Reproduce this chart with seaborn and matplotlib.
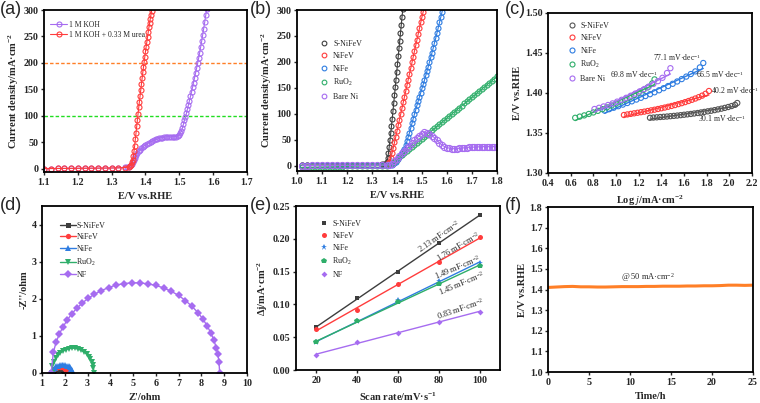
import numpy as np
import matplotlib
matplotlib.use("Agg")
import matplotlib.pyplot as plt
import seaborn as sns
from matplotlib.ticker import FormatStrFormatter

# ---------------- data ----------------
# (a) LSV in KOH with / without urea
a_koh_x = [1.10, 1.12, 1.14, 1.16, 1.18, 1.20, 1.22, 1.24, 1.26, 1.28, 1.30, 1.32, 1.34,
           1.345, 1.350, 1.355, 1.358, 1.360, 1.362, 1.365, 1.368, 1.370, 1.373, 1.376, 1.380,
           1.384, 1.388, 1.392, 1.396, 1.400, 1.405, 1.410, 1.415, 1.420, 1.425, 1.430, 1.435,
           1.440, 1.445, 1.450, 1.455, 1.460, 1.465, 1.470, 1.475, 1.480, 1.485, 1.490, 1.495,
           1.500, 1.503, 1.506, 1.509, 1.512, 1.515, 1.518, 1.521, 1.524, 1.527, 1.530, 1.533,
           1.536, 1.539, 1.542, 1.545, 1.548, 1.551, 1.554, 1.557, 1.560, 1.563, 1.566, 1.569,
           1.572, 1.575, 1.578, 1.581]
a_koh_y = [0.5, 0.6, 0.7, 0.8, 0.9, 1.0, 1.1, 1.2, 1.3, 1.4, 1.6, 2.0, 2.6,
           3, 4, 6, 8, 10, 13, 17, 21, 24, 27, 30, 33,
           36, 38.5, 41, 43, 45, 47, 49, 51, 52.5, 54, 55.5, 56.5,
           57.5, 58.5, 59, 59.5, 60, 60.5, 60.5, 60.5, 60.5, 60.5, 61, 62,
           64, 67, 71, 77, 84, 92, 97, 105, 113, 121, 129, 137,
           145, 154, 163, 172, 181, 190, 199, 209, 219, 230, 241, 253,
           265, 277, 290, 302]
a_urea_x = [1.10, 1.12, 1.14, 1.16, 1.18, 1.20, 1.22, 1.24, 1.26, 1.28, 1.30, 1.32, 1.34,
            1.350, 1.354, 1.358, 1.360, 1.362, 1.364, 1.366, 1.368, 1.370, 1.372, 1.374,
            1.376, 1.378, 1.380, 1.382, 1.384, 1.386, 1.388, 1.390, 1.392, 1.394, 1.396,
            1.398, 1.400, 1.402, 1.404, 1.406, 1.408, 1.410, 1.412, 1.414, 1.416, 1.418, 1.420]
a_urea_y = [0.5, 0.6, 0.7, 0.8, 0.9, 1.0, 1.1, 1.2, 1.3, 1.4, 1.6, 1.8, 2.5,
            3.5, 5, 8, 12, 17, 24, 33, 44, 56, 68, 80,
            92, 104, 116, 127, 138, 149, 160, 171, 182, 192, 202,
            212, 222, 231, 240, 249, 258, 267, 275, 283, 291, 299, 307]

# (b) LSV of catalysts
b_base_x = [1.02, 1.04, 1.06, 1.08, 1.10, 1.12, 1.14, 1.16, 1.18, 1.20, 1.22, 1.24, 1.26,
            1.28, 1.30, 1.32, 1.34]
b_snifev_x = b_base_x + [1.350, 1.355, 1.360, 1.363, 1.366, 1.369, 1.372, 1.375, 1.378,
                         1.381, 1.384, 1.387, 1.390, 1.393, 1.396, 1.399, 1.402, 1.405,
                         1.408, 1.411, 1.414, 1.417, 1.420, 1.423]
b_snifev_y = [1.0, 1.0, 1.1, 1.1, 1.2, 1.2, 1.3, 1.3, 1.4, 1.5, 1.6, 1.7, 1.8,
              1.9, 2.0, 2.2, 2.6,
              3, 4, 8, 15, 25, 37, 50, 63, 77, 91, 106, 121, 136, 151, 166, 181, 196,
              211, 226, 241, 256, 271, 286, 301]
b_nifev_x = b_base_x + [1.360, 1.365, 1.370, 1.375, 1.380, 1.385, 1.390, 1.395, 1.400,
                        1.405, 1.410, 1.415, 1.420, 1.425, 1.430, 1.435, 1.440, 1.445,
                        1.450, 1.455, 1.460, 1.465, 1.470, 1.475, 1.480, 1.485, 1.490,
                        1.495, 1.500, 1.505, 1.510]
b_nifev_y = [1.0, 1.0, 1.1, 1.1, 1.2, 1.2, 1.3, 1.3, 1.4, 1.5, 1.6, 1.7, 1.8,
             1.9, 2.0, 2.1, 2.3,
             2.5, 4, 8, 15, 24, 34, 45, 56, 67, 78, 89, 100, 111, 122, 133, 144, 155,
             166, 177, 188, 199, 210, 221, 232, 243, 254, 265, 276, 287, 297, 306]
b_nife_x = b_base_x + [1.360, 1.370, 1.380, 1.385, 1.390, 1.395, 1.400, 1.405, 1.410,
                       1.415, 1.420, 1.425, 1.430, 1.435, 1.440, 1.445, 1.450, 1.455,
                       1.460, 1.465, 1.470, 1.475, 1.480, 1.485, 1.490, 1.495, 1.500,
                       1.505, 1.510, 1.515, 1.520, 1.525, 1.530, 1.535, 1.540, 1.545,
                       1.550, 1.555, 1.560, 1.565, 1.570, 1.575, 1.580, 1.585]
b_nife_y = [0.8, 0.8, 0.9, 0.9, 1.0, 1.0, 1.1, 1.1, 1.2, 1.2, 1.3, 1.3, 1.4,
            1.5, 1.6, 1.7, 1.8,
            1.9, 2.0, 2.5, 4, 6, 8, 11, 14, 17, 20, 24, 28, 33, 40, 48, 56, 64, 73,
            82, 91, 100, 108, 117, 125, 133, 141, 149, 157, 165, 174, 183, 191, 200,
            209, 218, 227, 237, 246, 256, 266, 276, 286, 296, 306]
b_ruo2_x = b_base_x + [1.36, 1.37, 1.38, 1.39, 1.40, 1.41, 1.42, 1.43, 1.44, 1.45, 1.46,
                       1.47, 1.48, 1.49, 1.50, 1.51, 1.52, 1.53, 1.54, 1.55, 1.56, 1.57,
                       1.58, 1.59, 1.60, 1.61, 1.62, 1.63, 1.64, 1.65, 1.66, 1.67, 1.68,
                       1.69, 1.70, 1.71, 1.72, 1.73, 1.74, 1.75, 1.76, 1.77, 1.78, 1.79,
                       1.80]
b_ruo2_y = [-3.0, -2.8, -2.6, -2.4, -2.2, -2.0, -1.8, -1.6, -1.4, -1.2, -1.0, -0.8, -0.6,
            -0.4, -0.2, 0.0, 0.2,
            0.5, 1, 4, 8, 12, 16, 20, 24, 28, 32, 36, 40, 44, 48, 52, 56, 60, 64, 68,
            72, 76, 80, 84, 88, 92, 96, 100, 104, 108, 112, 116, 120, 124, 128, 132,
            136, 140, 144, 148, 152, 156, 160, 164, 168, 172]
b_bareni_x = b_base_x + [1.36, 1.37, 1.38, 1.39, 1.40, 1.41, 1.42, 1.43, 1.44, 1.45, 1.46,
                         1.47, 1.48, 1.49, 1.50, 1.51, 1.52, 1.53, 1.54, 1.55, 1.56, 1.57,
                         1.58, 1.59, 1.60, 1.61, 1.62, 1.63, 1.64, 1.65, 1.66, 1.67, 1.68,
                         1.69, 1.70, 1.71, 1.72, 1.73, 1.74, 1.75, 1.76, 1.77, 1.78, 1.79,
                         1.80]
b_bareni_y = [0.5, 0.5, 0.6, 0.6, 0.7, 0.7, 0.8, 0.8, 0.9, 0.9, 1.0, 1.0, 1.1,
              1.1, 1.2, 1.3, 1.4,
              1.6, 2, 4, 9, 14, 19, 24, 29, 34, 39, 44, 49, 54, 58, 62, 65, 64, 62, 58,
              54, 49, 44, 40, 37, 35, 34, 33, 33, 33, 34, 34, 35, 35, 36, 36, 36, 36,
              37, 37, 37, 37, 37, 37, 37, 37]

# (c) Tafel plots
c_snifev_x = [1.30, 1.33, 1.36, 1.39, 1.42, 1.45, 1.48, 1.51, 1.54, 1.57, 1.60, 1.63, 1.66,
              1.69, 1.72, 1.75, 1.78, 1.81, 1.84, 1.87, 1.90, 1.93, 1.96, 1.99, 2.02,
              2.05, 2.07]
c_snifev_y = [1.3690, 1.3693, 1.3696, 1.3700, 1.3703, 1.3706, 1.3710, 1.3714, 1.3718,
              1.3723, 1.3728, 1.3733, 1.3738, 1.3744, 1.3750, 1.3757, 1.3764, 1.3771,
              1.3778, 1.3786, 1.3795, 1.3804, 1.3814, 1.3825, 1.3837, 1.3852, 1.3875]
c_nifev_x = [1.07, 1.10, 1.13, 1.16, 1.19, 1.22, 1.25, 1.28, 1.31, 1.34, 1.37, 1.40, 1.43,
             1.46, 1.49, 1.52, 1.55, 1.58, 1.61, 1.64, 1.67, 1.70, 1.73, 1.76, 1.79, 1.82]
c_nifev_y = [1.3725, 1.3732, 1.3739, 1.3746, 1.3753, 1.3760, 1.3767, 1.3775, 1.3783,
             1.3791, 1.3800, 1.3809, 1.3818, 1.3828, 1.3838, 1.3849, 1.3861, 1.3873,
             1.3886, 1.3900, 1.3915, 1.3931, 1.3948, 1.3967, 1.3990, 1.4025]
c_nife_x = [0.90, 0.94, 0.98, 1.02, 1.06, 1.10, 1.14, 1.18, 1.22, 1.26, 1.30, 1.34, 1.38,
            1.42, 1.46, 1.50, 1.54, 1.58, 1.62, 1.66, 1.70, 1.74, 1.77]
c_nife_y = [1.3780, 1.3798, 1.3816, 1.3835, 1.3855, 1.3875, 1.3896, 1.3918, 1.3940,
            1.3962, 1.3985, 1.4009, 1.4034, 1.4060, 1.4087, 1.4115, 1.4144, 1.4174,
            1.4205, 1.4237, 1.4270, 1.4320, 1.4375]
c_ruo2_x = [0.64, 0.68, 0.72, 0.76, 0.80, 0.84, 0.88, 0.92, 0.96, 1.00, 1.04, 1.08, 1.12,
            1.16, 1.20, 1.24, 1.28, 1.32, 1.34]
c_ruo2_y = [1.3690, 1.3705, 1.3720, 1.3738, 1.3757, 1.3777, 1.3798, 1.3820, 1.3843,
            1.3867, 1.3892, 1.3918, 1.3945, 1.3974, 1.4004, 1.4036, 1.4070, 1.4120, 1.4170]
c_bareni_x = [0.81, 0.85, 0.89, 0.93, 0.97, 1.01, 1.05, 1.09, 1.13, 1.17, 1.21, 1.25,
              1.29, 1.33, 1.37, 1.41, 1.45, 1.48]
c_bareni_y = [1.3800, 1.3815, 1.3832, 1.3850, 1.3870, 1.3892, 1.3915, 1.3940, 1.3966,
              1.3993, 1.4021, 1.4050, 1.4081, 1.4113, 1.4148, 1.4190, 1.4250, 1.4310]
c_slopes = ["30.1", "40.2", "66.5", "69.8", "77.1"]

# (d) Nyquist plots
d_snifev_x = [1.45, 1.49, 1.54, 1.59, 1.64, 1.69, 1.74, 1.79, 1.84, 1.89, 1.93, 1.96, 1.98, 2.00]
d_snifev_y = [0.0, 0.062, 0.089, 0.105, 0.114, 0.119, 0.120, 0.117, 0.109, 0.096, 0.080,
              0.062, 0.045, 0.0]
d_nifev_x = [1.45, 1.49, 1.54, 1.60, 1.66, 1.72, 1.78, 1.84, 1.90, 1.96, 2.01, 2.05, 2.08, 2.10]
d_nifev_y = [0.0, 0.08, 0.117, 0.143, 0.159, 0.168, 0.170, 0.167, 0.157, 0.140, 0.117,
             0.090, 0.059, 0.0]
d_nife_x = [1.45, 1.50, 1.56, 1.63, 1.70, 1.78, 1.86, 1.94, 2.02, 2.10, 2.17, 2.23, 2.28,
            2.32, 2.35]
d_nife_y = [0.0, 0.10, 0.14, 0.176, 0.197, 0.212, 0.218, 0.218, 0.212, 0.197, 0.176, 0.15,
            0.118, 0.08, 0.0]
d_ruo2_x = [1.42, 1.46, 1.52, 1.60, 1.70, 1.80, 1.92, 2.05, 2.18, 2.32, 2.46, 2.60, 2.73,
            2.85, 2.96, 3.05, 3.12, 3.18, 3.23, 3.26, 3.28]
d_ruo2_y = [0.0, 0.19, 0.30, 0.40, 0.48, 0.54, 0.59, 0.63, 0.66, 0.67, 0.665, 0.645, 0.61,
            0.565, 0.51, 0.44, 0.375, 0.30, 0.22, 0.14, 0.0]
d_nf_x = [1.40, 1.50, 1.62, 1.76, 1.92, 2.10, 2.30, 2.52, 2.76, 3.02, 3.30, 3.60, 3.92,
          4.25, 4.60, 4.95, 5.30, 5.65, 6.00, 6.35, 6.68, 7.00, 7.30, 7.58, 7.84, 8.06,
          8.26, 8.42, 8.55, 8.65, 8.72, 8.77, 8.80]
d_nf_y = [0.0, 0.56, 0.83, 1.05, 1.24, 1.42, 1.59, 1.74, 1.88, 2.01, 2.12, 2.22, 2.30,
          2.37, 2.41, 2.43, 2.43, 2.40, 2.36, 2.29, 2.20, 2.09, 1.95, 1.80, 1.63, 1.46,
          1.26, 1.07, 0.88, 0.68, 0.51, 0.30, 0.0]

# (e) double-layer capacitance
e_rate = [20, 40, 60, 80, 100]
e_snifev = [0.065, 0.110, 0.150, 0.193, 0.236]
e_nifev = [0.062, 0.092, 0.131, 0.165, 0.202]
e_nife = [0.042, 0.074, 0.106, 0.135, 0.163]
e_ruo2 = [0.042, 0.075, 0.103, 0.131, 0.159]
e_nf = [0.023, 0.042, 0.057, 0.073, 0.089]
e_cdl = ["2.13", "1.76", "1.49", "1.45", "0.83"]

# (f) chronopotentiometry
f_time = [0, 1, 2, 3, 4, 5, 6, 7, 8, 9, 10, 11, 12, 13, 14, 15, 16, 17, 18, 19, 20, 21,
          22, 23, 24, 25]
f_pot = [1.410, 1.412, 1.414, 1.415, 1.413, 1.413, 1.412, 1.412, 1.413, 1.414, 1.414,
         1.414, 1.415, 1.415, 1.416, 1.416, 1.416, 1.417, 1.417, 1.418, 1.418, 1.419,
         1.421, 1.421, 1.420, 1.421]

# ---------------- style ----------------
sns.set_style("ticks")
plt.rcParams["font.family"] = ["Liberation Serif", "DejaVu Serif"]
plt.rcParams["mathtext.fontset"] = "custom"
plt.rcParams["mathtext.rm"] = "Liberation Serif"
plt.rcParams["mathtext.it"] = "Liberation Serif:italic"
plt.rcParams["mathtext.bf"] = "Liberation Serif:bold"

BLACK = "#3d3d3d"
RED = "#ff3c3c"
BLUE = "#2f7de1"
GREEN = "#2fae6a"
PURPLE = "#a66cf0"
ORANGE = "#ff7f27"

W, H = 760, 403
fig = plt.figure(figsize=(W / 100, H / 100), dpi=100)


def add_ax(left, top, right, bottom):
    return fig.add_axes([left / W, 1 - bottom / H, (right - left) / W, (bottom - top) / H])


def style(ax, xlabel, ylabel):
    for sp in ax.spines.values():
        sp.set_visible(True)
        sp.set_linewidth(1.3)
        sp.set_color("black")
    ax.tick_params(direction="out", length=2.5, width=1, labelsize=7.2, pad=1.5)
    for lab in ax.get_xticklabels() + ax.get_yticklabels():
        lab.set_fontweight("bold")
    ax.set_xlabel(xlabel, fontsize=7.5, fontweight="bold", labelpad=4)
    ax.set_ylabel(ylabel, fontsize=7.5, fontweight="bold", labelpad=2)


def open_markers(ax, x, y, color, label=None, ms=3.6, line=True):
    sns.lineplot(x=x, y=y, ax=ax, color=color, lw=0.8 if line else 0, marker="o",
                 markersize=ms, markerfacecolor="none", markeredgecolor=color,
                 markeredgewidth=0.8, estimator=None, sort=False, label=label)


jlab = r"Current density/mA·cm$^{\mathbf{-2}}$"
elab = "E/V vs.RHE"

# ---- (a)
ax = add_ax(44, 10, 247, 172)
ax.axhline(200, color=ORANGE, lw=1, ls=(0, (2.5, 1.5)))
ax.axhline(100, color="#22dd22", lw=1, ls=(0, (2.5, 1.5)))
open_markers(ax, a_koh_x, a_koh_y, PURPLE, "1 M KOH")
open_markers(ax, a_urea_x, a_urea_y, RED, "1 M KOH + 0.33 M urea")
ax.set_xlim(1.1, 1.7)
ax.set_ylim(-6, 300)
ax.set_xticks(np.arange(1.1, 1.71, 0.1))
ax.set_yticks(np.arange(0, 301, 50))
ax.xaxis.set_major_formatter(FormatStrFormatter("%.1f"))
style(ax, elab, jlab)
ax.legend(loc="upper left", bbox_to_anchor=(0.0, 0.97), frameon=False, fontsize=5.5,
          handlelength=2.2, handletextpad=0.3, labelspacing=0.25, borderaxespad=0.4)

# ---- (b)
ax = add_ax(297, 10, 497, 171)
b_series = [(b_snifev_x, b_snifev_y, BLACK, "S-NiFeV"),
            (b_nifev_x, b_nifev_y, RED, "NiFeV"),
            (b_nife_x, b_nife_y, BLUE, "NiFe"),
            (b_ruo2_x, b_ruo2_y, GREEN, r"RuO$_2$"),
            (b_bareni_x, b_bareni_y, PURPLE, "Bare Ni")]
for x, y, c, lab in b_series:
    open_markers(ax, x, y, c, None, ms=3.6 if c != PURPLE else 4.4)
for x, y, c, lab in b_series:
    ax.plot([], [], ls="none", marker="o", mfc="none", mec=c, mew=0.8, ms=3.4, label=lab)
ax.set_xlim(1.0, 1.8)
ax.set_ylim(-10, 300)
ax.set_xticks(np.arange(1.0, 1.81, 0.1))
ax.set_yticks(np.arange(0, 301, 50))
ax.xaxis.set_major_formatter(FormatStrFormatter("%.1f"))
style(ax, elab, jlab)
ax.legend(loc="upper left", bbox_to_anchor=(0.08, 0.86), frameon=False, fontsize=5.8,
          handlelength=1.0, handletextpad=0.6, labelspacing=0.55)

# ---- (c)
ax = add_ax(548, 13, 752, 173)
c_series = [(c_snifev_x, c_snifev_y, "#555555", "S-NiFeV"),
            (c_nifev_x, c_nifev_y, RED, "NiFeV"),
            (c_nife_x, c_nife_y, BLUE, "NiFe"),
            (c_ruo2_x, c_ruo2_y, GREEN, r"RuO$_2$"),
            (c_bareni_x, c_bareni_y, PURPLE, "Bare Ni")]
for x, y, c, lab in c_series:
    sns.scatterplot(x=x, y=y, ax=ax, marker="o", s=14, facecolors="none", edgecolor=c,
                    linewidth=0.8)
    k, b0 = np.polyfit(x, y, 1)
    xs = np.array([x[0], x[-1]])
    ax.plot(xs, k * xs + b0, color=c, lw=1.0)
    ax.plot([], [], ls="none", marker="o", mfc="none", mec=c, mew=0.8, ms=3.6, label=lab)
ann_c = [(1.72, 1.3675), (1.84, 1.4025), (1.71, 1.4235), (0.95, 1.4235), (1.33, 1.444)]
for (tx, ty), s in zip(ann_c, c_slopes):
    ax.text(tx, ty, s + r" mV·dec$^{-1}$", fontsize=5.6, ha="left", va="center")
ax.set_xlim(0.4, 2.2)
ax.set_ylim(1.30, 1.50)
ax.set_xticks(np.arange(0.4, 2.21, 0.2))
ax.set_yticks(np.arange(1.30, 1.501, 0.05))
ax.xaxis.set_major_formatter(FormatStrFormatter("%.1f"))
ax.yaxis.set_major_formatter(FormatStrFormatter("%.2f"))
style(ax, r"Log $\mathbf{\mathit{j}}$/mA·cm$^{\mathbf{-2}}$", elab)
ax.legend(loc="upper left", bbox_to_anchor=(0.06, 0.99), frameon=False, fontsize=5.8,
          handlelength=1.0, handletextpad=0.6, labelspacing=0.55)

# ---- (d)
ax = add_ax(42, 206, 247, 373)
d_series = [(d_snifev_x, d_snifev_y, BLACK, "s", 3.6, "S-NiFeV"),
            (d_nifev_x, d_nifev_y, RED, "o", 3.8, "NiFeV"),
            (d_nife_x, d_nife_y, BLUE, "^", 4.0, "NiFe"),
            (d_ruo2_x, d_ruo2_y, GREEN, "v", 4.0, r"RuO$_2$"),
            (d_nf_x, d_nf_y, PURPLE, "D", 3.8, "NF")]
for x, y, c, m, ms, lab in d_series:
    sns.lineplot(x=x, y=y, ax=ax, color=c, lw=1, marker=m, markersize=ms,
                 markeredgewidth=0, estimator=None, sort=False, label=lab)
ax.set_xlim(1, 10)
ax.set_ylim(0, 4.5)
ax.set_xticks(range(1, 11))
ax.set_yticks(range(0, 5))
style(ax, "Z'/ohm", "-Z''/ohm")
ax.legend(loc="upper left", bbox_to_anchor=(0.05, 0.95), frameon=False, fontsize=5.8,
          handlelength=2.0, handletextpad=0.1, labelspacing=0.45)

# ---- (e)
ax = add_ax(296, 206, 500, 370)
e_series = [(e_snifev, BLACK, "s", 3.2, "S-NiFeV"),
            (e_nifev, RED, "o", 3.6, "NiFeV"),
            (e_nife, BLUE, "*", 5.0, "NiFe"),
            (e_ruo2, GREEN, "p", 4.0, r"RuO$_2$"),
            (e_nf, PURPLE, "D", 3.0, "NF")]
for y, c, m, ms, lab in e_series:
    k, b0 = np.polyfit(e_rate, y, 1)
    xs = np.array([e_rate[0], e_rate[-1]])
    ax.plot(xs, k * xs + b0, color=c, lw=1)
    sns.lineplot(x=e_rate, y=y, ax=ax, color=c, lw=0, marker=m, markersize=ms,
                 markeredgewidth=0, estimator=None, label=lab)
ann_e = [(80, 0.203, 35), (89.5, 0.1875, 31), (89, 0.157, 23), (91, 0.1326, 23),
         (90.4, 0.093, 19)]
for (tx, ty, rot), s in zip(ann_e, e_cdl):
    ax.text(tx, ty, s + r" mF·cm$^{-2}$", fontsize=6, ha="center", va="center",
            rotation=rot, rotation_mode="anchor")
ax.set_xlim(10, 110)
ax.set_ylim(0, 0.25)
ax.set_xticks(e_rate)
ax.set_yticks(np.arange(0, 0.251, 0.05))
ax.yaxis.set_major_formatter(FormatStrFormatter("%.2f"))
style(ax, r"Scan rate/mV·s$^{\mathbf{-1}}$", r"Δj/mA·cm$^{\mathbf{-2}}$")
ax.legend(loc="upper left", bbox_to_anchor=(0.08, 0.96), frameon=False, fontsize=5.8,
          handlelength=1.0, handletextpad=0.6, labelspacing=0.5)

# ---- (f)
ax = add_ax(548, 207, 753, 372)
sns.lineplot(x=f_time, y=f_pot, ax=ax, color=ORANGE, lw=2.2, estimator=None)
ax.text(12.2, 1.46, r"@ 50 mA·cm$^{-2}$", fontsize=6, ha="center", va="center")
ax.set_xlim(0, 25)
ax.set_ylim(1.0, 1.8)
ax.set_xticks(range(0, 26, 5))
ax.set_yticks(np.arange(1.0, 1.81, 0.1))
ax.yaxis.set_major_formatter(FormatStrFormatter("%.1f"))
style(ax, "Time/h", elab)

# panel letters
for lab, px, py in [("(a)", 0, 1), ("(b)", 250, 1), ("(c)", 505, 1),
                    ("(d)", 0, 197), ("(e)", 250, 197), ("(f)", 505, 197)]:
    fig.text(px / W, 1 - py / H, lab, fontsize=13, family="Liberation Sans",
             ha="left", va="top")

fig.savefig("out.png", dpi=100)
